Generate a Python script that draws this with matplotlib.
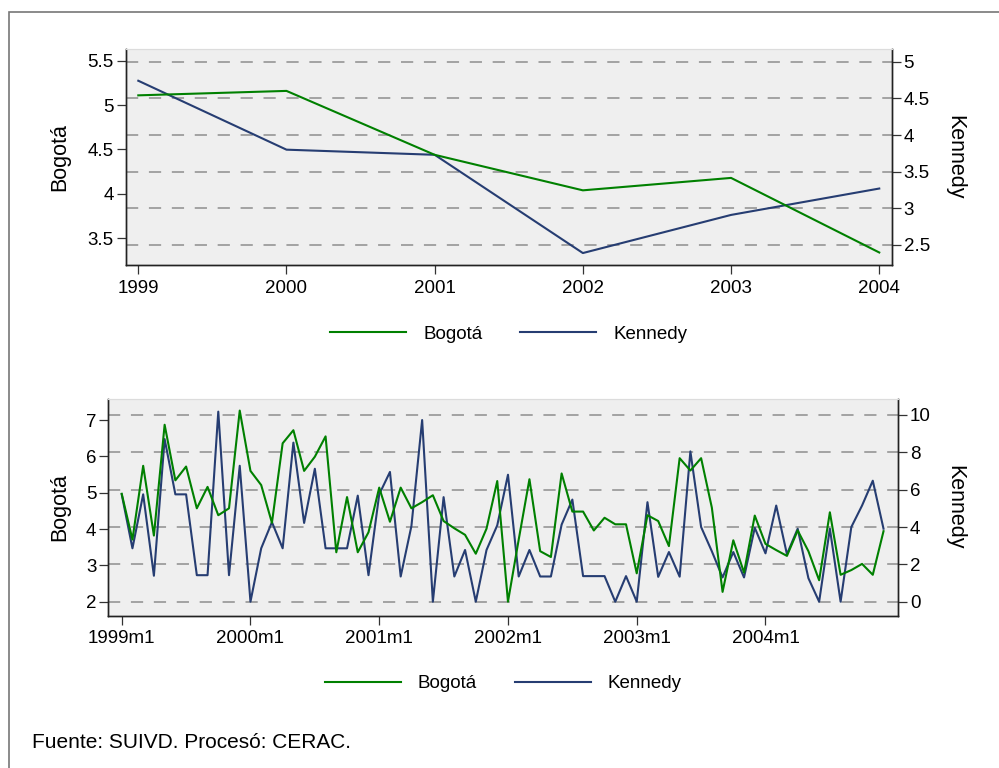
import matplotlib
matplotlib.use("Agg")
import matplotlib.pyplot as plt
from matplotlib.patches import Rectangle

plt.rcParams['font.family'] = ['Liberation Sans', 'DejaVu Sans']

# annual series
years = [1999, 2000, 2001, 2002, 2003, 2004]
bogota_anual = [5.11, 5.16, 4.44, 4.04, 4.18, 3.34]
kennedy_anual = [4.74, 3.80, 3.73, 2.39, 2.91, 3.27]

# monthly series, 1999m1 .. 2004m12
bogota_mes = [4.97, 3.71, 5.74, 3.82, 6.87, 5.34, 5.72, 4.57, 5.16, 4.38, 4.57, 7.26,
              5.60, 5.21, 4.17, 6.36, 6.72, 5.60, 5.99, 6.55, 3.36, 4.88, 3.36, 3.91,
              5.14, 4.20, 5.14, 4.57, 4.74, 4.93, 4.22, 4.02, 3.84, 3.32, 4.01, 5.32,
              2.00, 3.71, 5.37, 3.39, 3.23, 5.53, 4.48, 4.48, 3.96, 4.31, 4.13, 4.13,
              2.78, 4.38, 4.22, 3.53, 5.95, 5.61, 5.95, 4.59, 2.27, 3.69, 2.80, 4.37,
              3.59, 3.42, 3.26, 3.96, 3.39, 2.59, 4.46, 2.74, 2.87, 3.04, 2.74, 3.94]
kennedy_mes = [5.75, 2.86, 5.75, 1.39, 8.71, 5.75, 5.75, 1.42, 1.42, 10.18, 1.42, 7.28,
               0.00, 2.86, 4.26, 2.86, 8.52, 4.22, 7.12, 2.86, 2.86, 2.86, 5.68, 1.42,
               5.75, 6.95, 1.35, 4.05, 9.73, 0.00, 5.60, 1.35, 2.77, 0.00, 2.77, 4.09,
               6.80, 1.35, 2.77, 1.35, 1.35, 4.13, 5.47, 1.37, 1.37, 1.37, 0.00, 1.37,
               0.00, 5.33, 1.33, 2.66, 1.34, 8.05, 4.00, 2.70, 1.30, 2.66, 1.30, 3.96,
               2.59, 5.15, 2.54, 3.91, 1.26, 0.00, 3.91, 0.00, 4.00, 5.15, 6.48, 3.91]
meses = list(range(len(bogota_mes)))
mes_ticks = [0, 12, 24, 36, 48, 60]
mes_labels = ['1999m1', '2000m1', '2001m1', '2002m1', '2003m1', '2004m1']

verde = '#008000'
azul = '#263d72'
fs = 13.5
W, H = 999, 768

fig = plt.figure(figsize=(W / 100, H / 100), dpi=100)


def px(l, t, r, b):
    return [l / W, 1 - b / H, (r - l) / W, (b - t) / H]


def panel(rect, x, yb, yk, xlim, ylb, ylk, yt_b, yt_k, xt, xl):
    axk = fig.add_axes(rect)
    axk.set_facecolor('#efefef')
    axb = axk.twinx()
    axk.yaxis.tick_right()
    axb.yaxis.tick_left()
    lk, = axk.plot(x, yk, color=azul, lw=1.5)
    lb, = axb.plot(x, yb, color=verde, lw=1.5)
    axk.set_xlim(*xlim)
    axk.set_ylim(*ylk)
    axb.set_ylim(*ylb)
    axk.set_yticks(yt_k)
    axb.set_yticks(yt_b)
    axk.set_yticklabels([f'{v:g}' for v in yt_k])
    axb.set_yticklabels([f'{v:g}' for v in yt_b])
    axk.set_xticks(xt)
    axk.set_xticklabels(xl)
    axk.yaxis.grid(True, color='#8e8e8e', lw=1.1, linestyle=(0, (8.0, 7.0)))
    for a in (axk, axb):
        a.tick_params(direction='out', length=6.5, width=0.9, color='#333333',
                      labelsize=fs, pad=2)
        for s in ('left', 'right', 'bottom'):
            a.spines[s].set_color('#222222')
            a.spines[s].set_linewidth(1.0)
        a.spines['top'].set_color('#dcdcdc')
    axk.tick_params(axis='x', pad=4)
    return axk, axb, lb, lk


# top panel: annual rates
axk1, axb1, lb1, lk1 = panel(px(125.7, 49, 891.7, 265), years, bogota_anual, kennedy_anual,
                             (1998.915, 2004.084), (3.199, 5.632), (2.227, 5.173),
                             [3.5, 4, 4.5, 5, 5.5], [2.5, 3, 3.5, 4, 4.5, 5],
                             years, [str(y) for y in years])

# bottom panel: monthly rates
axk2, axb2, lb2, lk2 = panel(px(108.3, 399, 898, 615.7), meses, bogota_mes, kennedy_mes,
                             (-1.25, 72.35), (1.614, 7.579), (-0.75, 10.857),
                             [2, 3, 4, 5, 6, 7], [0, 2, 4, 6, 8, 10],
                             mes_ticks, mes_labels)

# axis titles
for yc in (157, 507):
    fig.text(60 / W, 1 - yc / H, 'Bogotá', rotation=90, ha='center', va='center', fontsize=15.5)
    fig.text(955 / W, 1 - yc / H, 'Kennedy', rotation=270, ha='center', va='center', fontsize=15.5)

# legends
for (lb, lk, xc, yc) in ((lb1, lk1, 508.7, 334), (lb2, lk2, 503.2, 683.5)):
    fig.legend([lb, lk], ['Bogotá', 'Kennedy'], loc='center',
               bbox_to_anchor=(xc / W, 1 - yc / H), ncol=2, frameon=False,
               fontsize=fs, handlelength=4.07, handletextpad=0.9,
               columnspacing=2.0, borderpad=0)

fig.text(32 / W, 1 - 743 / H, 'Fuente: SUIVD. Procesó: CERAC.', ha='left', va='center',
         fontsize=15)

# outer frame (cropped at the right and bottom)
fig.add_artist(Rectangle((9 / W, -0.1), 1.2, 1.1 - 12 / H, transform=fig.transFigure,
                         fill=False, edgecolor='#777777', lw=1.2))

fig.savefig('out.png', dpi=100, facecolor='white')
